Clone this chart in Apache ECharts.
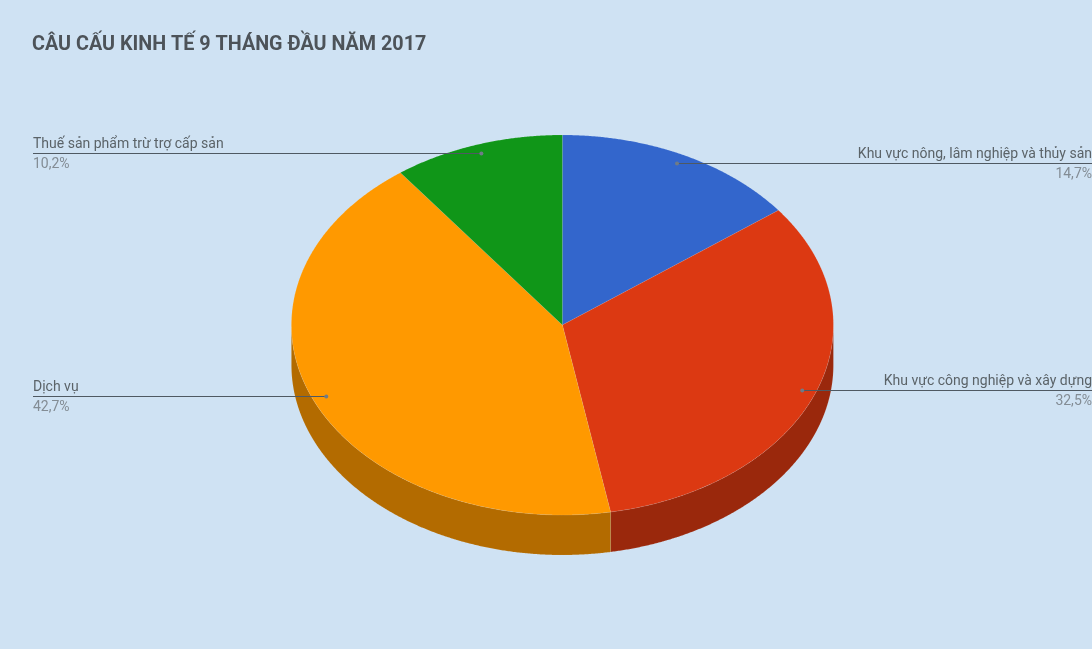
<!DOCTYPE html>
<html>
<head>
<meta charset="utf-8">
<style>html,body{margin:0;padding:0;background:#cfe2f3}#c{width:1092px;height:649px}</style>
<script src="https://cdn.jsdelivr.net/npm/echarts@6/dist/echarts.min.js"></script>
</head>
<body>
<div id="c"></div>
<script>
const titleText = 'CÂU CẤU KINH TẾ 9 THÁNG ĐẦU NĂM 2017';
const categories = ['Khu vực nông, lâm nghiệp và thủy sản', 'Khu vực công nghiệp và xây dựng', 'Dịch vụ', 'Thuế sản phẩm trừ trợ cấp sản'];
const values = [14.7, 32.5, 42.7, 10.2];
const topColors = ['#3366cc', '#dc3912', '#ff9900', '#109618'];
const wallColors = ['#24478f', '#9a280c', '#b36b00', '#0b6911'];

const CX = 562.4, CY = 325, RX = 271, RY = 190, DEPTH = 40;
const ANCHOR = 0.95, LEFT_X = 33, RIGHT_X = 1092;
const SEAM = 'rgba(255,255,255,0.12)';
const total = values.reduce((a, b) => a + b, 0);
const starts = values.map((_, i) => values.slice(0, i).reduce((a, b) => a + b, 0) / total * 2 * Math.PI);
const ends = values.map((_, i) => values.slice(0, i + 1).reduce((a, b) => a + b, 0) / total * 2 * Math.PI);
const pt = (t, f, dy) => [CX + RX * f * Math.sin(t), CY - RY * f * Math.cos(t) + (dy || 0)];
const arc = (a, b, dy) => {
  const n = Math.max(2, Math.ceil((b - a) / 0.005));
  const out = [];
  for (let k = 0; k <= n; k++) out.push(pt(a + (b - a) * k / n, 1, dy));
  return out;
};
const rows = values.map((v, i) => [v, i]);

const wallItem = (params) => {
  const i = params.dataIndex;
  const a = Math.max(starts[i], Math.PI / 2), b = Math.min(ends[i], Math.PI * 1.5);
  if (b <= a) return { type: 'group', children: [] };
  const points = arc(a, b, 0).concat(arc(a, b, DEPTH).reverse());
  return { type: 'polygon', shape: { points }, style: { fill: wallColors[i], stroke: SEAM, lineWidth: 0.7 } };
};
const topItem = (params) => {
  const i = params.dataIndex;
  const points = [[CX, CY]].concat(arc(starts[i], ends[i], 0));
  return { type: 'polygon', shape: { points }, style: { fill: topColors[i], stroke: SEAM, lineWidth: 0.7 } };
};
const labelItem = (params, api) => {
  const i = params.dataIndex;
  const mid = (starts[i] + ends[i]) / 2;
  const [ax, ayRaw] = pt(mid, ANCHOR);
  const ay = Math.floor(ayRaw) + 0.5;
  const right = Math.sin(mid) > 0;
  const tx = right ? RIGHT_X : LEFT_X;
  const align = right ? 'right' : 'left';
  return { type: 'group', children: [
    { type: 'line', shape: { x1: ax, y1: ay, x2: tx, y2: ay }, style: { stroke: '#4f5962', lineWidth: 1 } },
    { type: 'circle', shape: { cx: ax, cy: ay, r: 2 }, style: { fill: '#6f7b87' } },
    { type: 'text', style: { x: tx, y: ay - 9, text: categories[i], align, verticalAlign: 'middle', fill: '#5b6368', font: '14px Roboto' } },
    { type: 'text', style: { x: tx, y: ay + 11, text: api.value(0).toFixed(1).replace('.', ',') + '%', align, verticalAlign: 'middle', fill: '#838c94', font: '14px Roboto' } }
  ] };
};

const chart = echarts.init(document.getElementById('c'), null, { renderer: 'canvas' });
chart.setOption({
  animation: false,
  backgroundColor: '#cfe2f3',
  title: { text: titleText, left: 32, top: 35, padding: 0, textStyle: { fontFamily: 'Roboto', fontWeight: 'bold', fontSize: 19.75, color: '#4d5359' } },
  tooltip: { show: false },
  series: [
    { type: 'custom', z: 1, silent: true, coordinateSystem: 'none', data: rows, renderItem: wallItem },
    { type: 'custom', z: 2, silent: true, coordinateSystem: 'none', data: rows, renderItem: topItem },
    { type: 'custom', z: 3, silent: true, coordinateSystem: 'none', data: rows, renderItem: labelItem }
  ]
});
</script>
</body>
</html>
